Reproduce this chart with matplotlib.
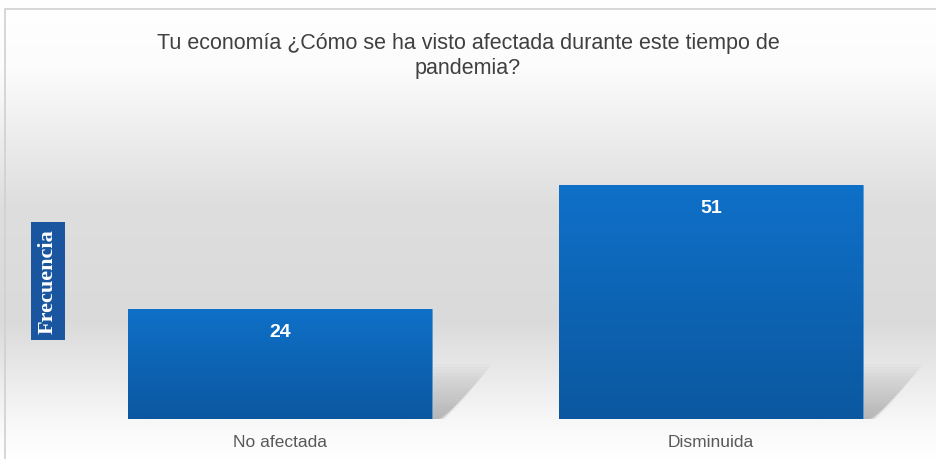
import numpy as np
import matplotlib.pyplot as plt
from matplotlib.patches import Polygon, Rectangle
from matplotlib.colors import LinearSegmentedColormap

categorias = ['No afectada', 'Disminuida']
frecuencia = [24, 51]
titulo = 'Tu economía ¿Cómo se ha visto afectada durante este tiempo de\npandemia?'

plt.rcParams['font.family'] = ['Liberation Sans', 'DejaVu Sans']

fig = plt.figure(figsize=(9.36, 4.6), dpi=100)

# fondo con degradado (blanco - gris - blanco), de arriba hacia abajo
bg = fig.add_axes([0, 0, 1, 1], zorder=0)
fondo = LinearSegmentedColormap.from_list('fondo', [
    (0.0, '#ffffff'), (0.15, '#fcfcfc'), (0.45, '#dedede'),
    (0.70, '#dadada'), (0.93, '#f9f9f9'), (1.0, '#ffffff')])
grad = np.linspace(0, 1, 256).reshape(-1, 1)
bg.imshow(grad, cmap=fondo, aspect='auto', extent=[0, 1, 0, 1], origin='upper')
bg.set_xlim(0, 1)
bg.set_ylim(0, 1)
bg.axis('off')
bg.add_patch(Rectangle((5/936, -0.5), 2, 1.5 - 10/460, fill=False,
                       edgecolor='#d0d0d0', lw=1.2, transform=bg.transAxes))

ax = fig.add_axes([64.5/936, 40/460, 862/936, 275/460], zorder=1)
ax.patch.set_alpha(0)
x = np.arange(len(categorias))
ancho = 0.705
barras = ax.bar(x, frecuencia, width=ancho, color='#0e66b8', zorder=3)

azul = LinearSegmentedColormap.from_list('azul', ['#0f70c8', '#0b58a0'])
for b, v in zip(barras, frecuencia):
    x0, w, h = b.get_x(), b.get_width(), b.get_height()
    # sombra difusa
    n = 18
    for k in range(n):
        s = 1 - k / n
        sombra = Polygon([(x0 + w, 0), (x0 + w, 12 * s),
                          (x0 + w + 0.04 + 0.1 * s, 12 * s),
                          (x0 + w + 0.01 + 0.02 * s, 0)],
                         closed=True, color='#808080', alpha=0.035, lw=0, zorder=2)
        ax.add_patch(sombra)
    im = ax.imshow(np.linspace(0, 1, 100).reshape(-1, 1), cmap=azul, aspect='auto',
                   extent=[x0, x0 + w, 0, h], origin='upper', zorder=3)
    im.set_clip_path(b)
    b.set_edgecolor('#5b9bd5')
    b.set_linewidth(0.6)
    ax.text(b.get_x() + w / 2, h - 3.1, str(v), ha='center', va='top',
            color='white', fontsize=14, fontweight='bold', zorder=4)

ax.set_xlim(-0.5, 1.5)
ax.set_ylim(0, 60)
ax.set_xticks(x)
ax.set_xticklabels(categorias, fontsize=12.5, color='#595959')
ax.tick_params(axis='x', length=0, pad=11)
ax.set_yticks([])
for sp in ax.spines.values():
    sp.set_visible(False)

fig.text(0.5, 1 - 56/460, titulo, ha='center', va='center', fontsize=15.5,
         color='#404040', linespacing=1.2)

fig.text(48/936, 1 - 282/460, 'Frecuencia', rotation=90, ha='center', va='center',
         fontsize=16, fontweight='bold', color='white', family='Liberation Serif',
         bbox=dict(boxstyle='square,pad=0.3', facecolor='#1a56a0', edgecolor='none'))

fig.savefig('out.png', dpi=100)
